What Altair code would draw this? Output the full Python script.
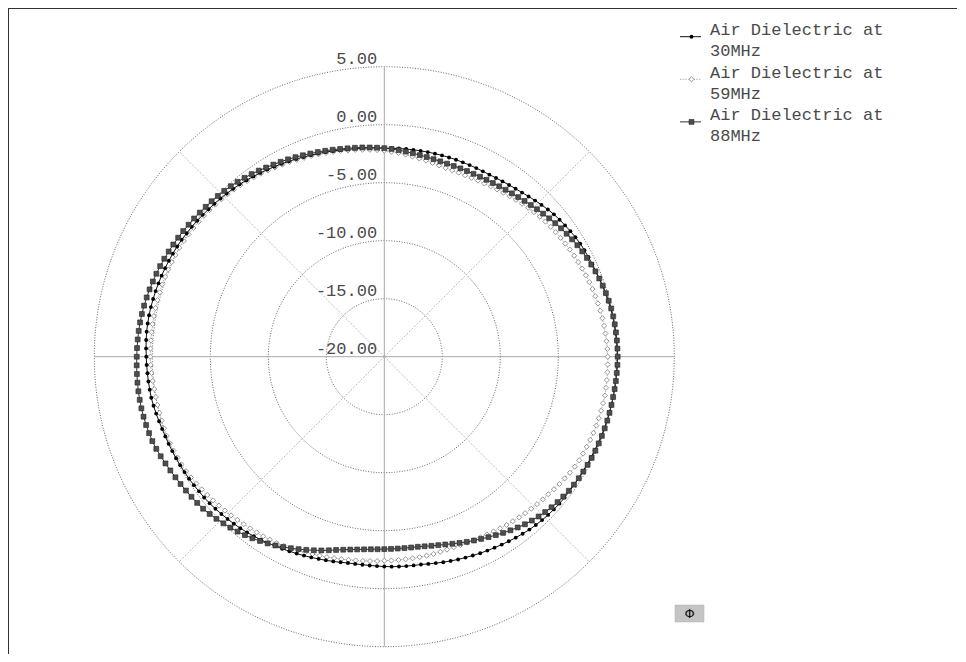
import math
import altair as alt
import pandas as pd

# ---------------- data (dB) ----------------
angles_deg = list(range(0, 360, 2))  # measured counter-clockwise from 3 o'clock

series_labels = ["Air Dielectric at\n30MHz", "Air Dielectric at\n59MHz", "Air Dielectric at\n88MHz"]

db_30 = [
    0.09, 0.08, 0.06, 0.04, 0.02, 0.00, -0.05, -0.11, -0.17, -0.23,
    -0.29, -0.34, -0.38, -0.42, -0.46, -0.50, -0.57, -0.65, -0.74, -0.82,
    -0.91, -1.03, -1.16, -1.29, -1.41, -1.53, -1.62, -1.70, -1.77, -1.83,
    -1.88, -1.90, -1.91, -1.92, -1.93, -1.93, -1.94, -1.95, -1.96, -1.97,
    -1.98, -1.99, -2.00, -2.01, -2.02, -2.03, -2.00, -1.96, -1.92, -1.89,
    -1.85, -1.79, -1.72, -1.65, -1.58, -1.51, -1.43, -1.34, -1.25, -1.17,
    -1.08, -0.98, -0.89, -0.79, -0.70, -0.60, -0.52, -0.44, -0.37, -0.29,
    -0.22, -0.14, -0.06, 0.02, 0.09, 0.17, 0.23, 0.28, 0.33, 0.38,
    0.43, 0.47, 0.51, 0.54, 0.57, 0.59, 0.60, 0.60, 0.58, 0.55,
    0.52, 0.50, 0.47, 0.45, 0.42, 0.40, 0.34, 0.27, 0.20, 0.14,
    0.09, 0.05, 0.01, -0.03, -0.07, -0.11, -0.15, -0.20, -0.25, -0.29,
    -0.34, -0.41, -0.48, -0.55, -0.62, -0.69, -0.78, -0.87, -0.97, -1.06,
    -1.16, -1.25, -1.34, -1.42, -1.51, -1.59, -1.67, -1.74, -1.81, -1.88,
    -1.94, -1.96, -1.97, -1.96, -1.94, -1.91, -1.89, -1.87, -1.85, -1.83,
    -1.81, -1.74, -1.66, -1.57, -1.49, -1.40, -1.32, -1.24, -1.15, -1.07,
    -0.99, -0.90, -0.81, -0.72, -0.63, -0.54, -0.48, -0.42, -0.37, -0.33,
    -0.29, -0.28, -0.27, -0.26, -0.25, -0.24, -0.21, -0.18, -0.15, -0.12,
    -0.09, -0.06, -0.03, -0.01, 0.02, 0.04, 0.05, 0.06, 0.07, 0.08,
]

db_59 = [
    -0.74, -0.76, -0.79, -0.83, -0.87, -0.91, -0.96, -1.02, -1.08, -1.13,
    -1.19, -1.26, -1.33, -1.40, -1.46, -1.53, -1.60, -1.67, -1.74, -1.80,
    -1.87, -1.96, -2.06, -2.15, -2.25, -2.34, -2.43, -2.52, -2.61, -2.69,
    -2.76, -2.81, -2.85, -2.88, -2.89, -2.90, -2.89, -2.85, -2.79, -2.72,
    -2.65, -2.57, -2.48, -2.40, -2.32, -2.24, -2.18, -2.12, -2.06, -2.00,
    -1.94, -1.87, -1.80, -1.73, -1.66, -1.59, -1.51, -1.42, -1.33, -1.25,
    -1.16, -1.06, -0.97, -0.87, -0.78, -0.69, -0.61, -0.54, -0.47, -0.40,
    -0.33, -0.27, -0.21, -0.15, -0.10, -0.04, 0.00, 0.03, 0.06, 0.09,
    0.11, 0.13, 0.14, 0.15, 0.16, 0.17, 0.17, 0.17, 0.17, 0.17,
    0.17, 0.15, 0.11, 0.07, 0.03, 0.00, -0.01, -0.02, -0.03, -0.03,
    -0.04, -0.07, -0.11, -0.16, -0.21, -0.26, -0.35, -0.45, -0.54, -0.64,
    -0.73, -0.82, -0.90, -0.99, -1.07, -1.16, -1.22, -1.28, -1.33, -1.39,
    -1.44, -1.53, -1.62, -1.72, -1.81, -1.90, -1.97, -2.03, -2.10, -2.16,
    -2.22, -2.26, -2.30, -2.34, -2.37, -2.41, -2.42, -2.43, -2.44, -2.45,
    -2.45, -2.47, -2.48, -2.50, -2.51, -2.52, -2.49, -2.44, -2.39, -2.35,
    -2.31, -2.23, -2.15, -2.07, -2.00, -1.92, -1.85, -1.77, -1.70, -1.62,
    -1.55, -1.44, -1.34, -1.24, -1.13, -1.03, -0.98, -0.94, -0.90, -0.85,
    -0.81, -0.78, -0.76, -0.74, -0.72, -0.69, -0.70, -0.71, -0.72, -0.73,
]

db_88 = [
    0.12, 0.11, 0.10, 0.08, 0.06, 0.04, 0.00, -0.06, -0.13, -0.20,
    -0.28, -0.37, -0.47, -0.57, -0.67, -0.78, -0.91, -1.04, -1.17, -1.30,
    -1.44, -1.57, -1.70, -1.82, -1.93, -2.04, -2.13, -2.21, -2.28, -2.34,
    -2.39, -2.43, -2.46, -2.48, -2.49, -2.50, -2.50, -2.48, -2.45, -2.40,
    -2.35, -2.29, -2.22, -2.15, -2.08, -2.02, -1.97, -1.92, -1.86, -1.81,
    -1.76, -1.69, -1.61, -1.53, -1.45, -1.36, -1.27, -1.17, -1.07, -0.97,
    -0.88, -0.77, -0.65, -0.54, -0.43, -0.32, -0.22, -0.13, -0.05, 0.03,
    0.10, 0.18, 0.27, 0.35, 0.44, 0.52, 0.60, 0.68, 0.76, 0.84,
    0.91, 0.98, 1.05, 1.11, 1.17, 1.22, 1.26, 1.29, 1.31, 1.33,
    1.34, 1.36, 1.38, 1.40, 1.41, 1.41, 1.41, 1.39, 1.36, 1.32,
    1.28, 1.20, 1.10, 0.99, 0.89, 0.79, 0.71, 0.63, 0.55, 0.47,
    0.39, 0.26, 0.12, -0.03, -0.17, -0.32, -0.48, -0.65, -0.84, -1.02,
    -1.21, -1.42, -1.63, -1.84, -2.04, -2.24, -2.44, -2.64, -2.83, -2.99,
    -3.12, -3.22, -3.30, -3.36, -3.39, -3.41, -3.42, -3.42, -3.41, -3.39,
    -3.36, -3.29, -3.20, -3.10, -2.98, -2.84, -2.69, -2.53, -2.37, -2.21,
    -2.04, -1.86, -1.68, -1.50, -1.32, -1.14, -0.99, -0.85, -0.72, -0.60,
    -0.50, -0.42, -0.34, -0.28, -0.23, -0.19, -0.15, -0.11, -0.08, -0.06,
    -0.04, -0.02, 0.00, 0.01, 0.02, 0.03, 0.05, 0.07, 0.09, 0.11,
]

ring_values = [5, 0, -5, -10, -15]
label_values = [5, 0, -5, -10, -15, -20]
db_center = -20
db_outer = 5

# ---------------- geometry helpers ----------------
W, H = 949, 646
CX, CY = 376.3, 348.7
PPU = 58 / 5.0  # pixels per dB
xs = alt.Scale(domain=[-CX / PPU, (W - CX) / PPU], nice=False, zero=False)
ys = alt.Scale(domain=[-(H - CY) / PPU, CY / PPU], nice=False, zero=False)
FONT = "Liberation Mono"
TEXT_COLOR = "#4a4a4a"


def polar_df(values, name, close=False):
    rows = []
    for i, (a, v) in enumerate(zip(angles_deg, values)):
        r = v - db_center
        t = math.radians(a)
        rows.append(dict(series=name, i=i, db=v, x=r * math.cos(t), y=r * math.sin(t)))
    if close:
        first = dict(rows[0])
        first["i"] = len(rows)
        rows.append(first)
    return pd.DataFrame(rows)


def X(f="x"):
    return alt.X(f"{f}:Q", scale=xs, axis=None)


def Y(f="y"):
    return alt.Y(f"{f}:Q", scale=ys, axis=None)


# rings
ring_rows = []
for v in ring_values:
    r = v - db_center
    for k in range(0, 361):
        t = math.radians(k)
        ring_rows.append(dict(ring=v, k=k, x=r * math.cos(t), y=r * math.sin(t)))
rings = alt.Chart(pd.DataFrame(ring_rows)).mark_line(
    color="#555", strokeWidth=0.9, strokeDash=[1, 1.6]
).encode(x=X(), y=Y(), detail="ring:N", order="k:Q")

R_OUT = db_outer - db_center
cross = alt.Chart(pd.DataFrame([
    dict(x=-R_OUT, y=0, x2=R_OUT, y2=0),
    dict(x=0, y=-R_OUT, x2=0, y2=R_OUT),
])).mark_rule(color="#a8a8a8", strokeWidth=1).encode(
    x=X(), y=Y(), x2="x2:Q", y2="y2:Q")

diag_rows = []
for a in [45, 135, 225, 315]:
    t = math.radians(a)
    diag_rows.append(dict(x=0, y=0, x2=R_OUT * math.cos(t), y2=R_OUT * math.sin(t)))
diag = alt.Chart(pd.DataFrame(diag_rows)).mark_rule(
    color="#b4b4b4", strokeWidth=0.9, strokeDash=[2, 1.5]
).encode(x=X(), y=Y(), x2="x2:Q", y2="y2:Q")

lab_df = pd.DataFrame(dict(
    v=label_values,
    txt=[f"{v:.2f}" for v in label_values],
    x=[-0.62 for _ in label_values],
    y=[v - db_center + 0.24 for v in label_values],
))
labels = alt.Chart(lab_df).mark_text(
    align="right", baseline="alphabetic", font=FONT, fontSize=17, color=TEXT_COLOR
).encode(x=X(), y=Y(), text="txt:N")

# curves
d30, d59, d88 = polar_df(db_30, "30"), polar_df(db_59, "59"), polar_df(db_88, "88")
l30, l59, l88 = polar_df(db_30, "30", True), polar_df(db_59, "59", True), polar_df(db_88, "88", True)

line59 = alt.Chart(l59).mark_line(color="#9a9a9a", strokeWidth=0.8, strokeDash=[1.5, 1.2]).encode(
    x=X(), y=Y(), order="i:Q")
pts59 = alt.Chart(d59).mark_point(shape="diamond", size=26, filled=True, fill="white",
                                  stroke="#8a8a8a", strokeWidth=0.9, opacity=1).encode(x=X(), y=Y())
line30 = alt.Chart(l30).mark_line(color="#111", strokeWidth=1).encode(x=X(), y=Y(), order="i:Q")
pts30 = alt.Chart(d30).mark_point(shape="circle", size=15, filled=True, color="#000",
                                  opacity=1).encode(x=X(), y=Y())
line88 = alt.Chart(l88).mark_line(color="#333", strokeWidth=1).encode(x=X(), y=Y(), order="i:Q")
pts88 = alt.Chart(d88).mark_point(shape="square", size=24, filled=True, fill="#4e4e4e",
                                  stroke="#222", strokeWidth=0.6, opacity=1).encode(x=X(), y=Y())

# legend (drawn by hand to match the original)
leg_layers = []
base = alt.Chart(pd.DataFrame({"a": [0]}))
styles = [
    dict(line=dict(color="#111", strokeWidth=1),
         pt=dict(shape="circle", size=15, filled=True, color="#000", opacity=1)),
    dict(line=dict(color="#9a9a9a", strokeWidth=0.8, strokeDash=[1.5, 1.2]),
         pt=dict(shape="diamond", size=26, filled=True, fill="white", stroke="#8a8a8a",
                 strokeWidth=0.9, opacity=1)),
    dict(line=dict(color="#333", strokeWidth=1),
         pt=dict(shape="square", size=24, filled=True, fill="#4e4e4e", stroke="#222",
                 strokeWidth=0.6, opacity=1)),
]
for i, (lab, st) in enumerate(zip(series_labels, styles)):
    ty = 27 + 42.6 * i
    sy = 28.7 + 42.6 * i
    leg_layers.append(base.mark_text(
        align="left", baseline="alphabetic", font=FONT, fontSize=17, color=TEXT_COLOR,
        lineBreak="\n", lineHeight=21.3
    ).encode(x=alt.value(702), y=alt.value(ty), text=alt.value(lab)))
    leg_layers.append(base.mark_rule(**st["line"]).encode(
        x=alt.value(672), x2=alt.value(693), y=alt.value(sy)))
    leg_layers.append(base.mark_point(**st["pt"]).encode(
        x=alt.value(683.5), y=alt.value(sy)))

phi_box = base.mark_rect(fill="#c4c4c4", stroke="#b0b0b0", strokeWidth=0.5).encode(
    x=alt.value(667), x2=alt.value(696), y=alt.value(597), y2=alt.value(614))
phi_txt = base.mark_text(font="DejaVu Sans", fontSize=13, color="#111",
                         align="center", baseline="middle").encode(
    x=alt.value(681.5), y=alt.value(606), text=alt.value("Φ"))

# frame: only the top and left edges are drawn in the original
frame_top = base.mark_rule(color="#333", strokeWidth=1).encode(
    x=alt.value(0), x2=alt.value(W), y=alt.value(0.5))
frame_left = base.mark_rule(color="#333", strokeWidth=1).encode(
    x=alt.value(0.5), y=alt.value(0), y2=alt.value(H))

chart = alt.layer(
    rings, cross, diag, labels,
    line59, pts59, line30, pts30, line88, pts88,
    *leg_layers, phi_box, phi_txt, frame_top, frame_left,
).properties(
    width=W, height=H, padding=0,
    autosize=alt.AutoSizeParams(type="none"),
    background="white",
).configure_view(strokeWidth=0)

chart.save("out.html", embed_options={"renderer": "svg", "actions": False})
